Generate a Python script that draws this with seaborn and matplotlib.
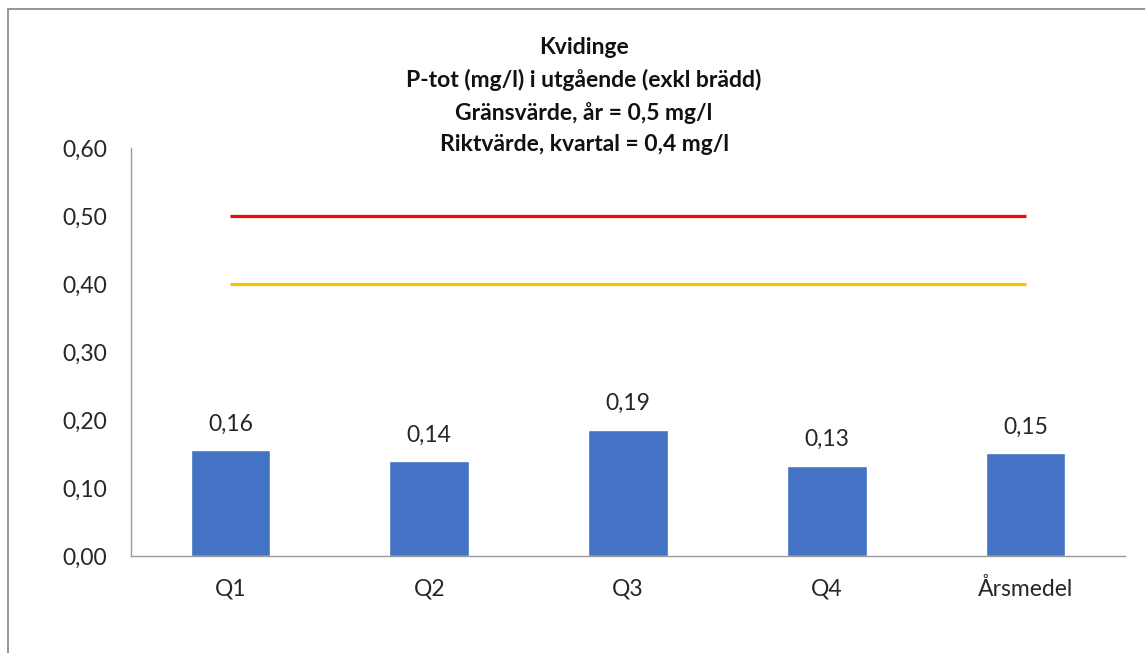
import numpy as np
import pandas as pd
import matplotlib
matplotlib.use("Agg")
import matplotlib.pyplot as plt
from matplotlib.patches import Rectangle
import seaborn as sns

# Quarterly P-tot in outgoing water (mg/l)
categories = ["Q1", "Q2", "Q3", "Q4", "Årsmedel"]
values = [0.156, 0.139, 0.186, 0.133, 0.152]
# Limit values per category (yearly limit and quarterly guideline)
gransvarde = [0.5, 0.5, 0.5, 0.5, 0.5]
riktvarde = [0.4, 0.4, 0.4, 0.4, 0.4]
yticks = [0.0, 0.1, 0.2, 0.3, 0.4, 0.5, 0.6]

title_lines = [
    "Kvidinge",
    "P-tot (mg/l) i utgående (exkl brädd)",
    "Gränsvärde, år = 0,5 mg/l",
    "Riktvärde, kvartal = 0,4 mg/l",
]

sns.set_theme(style="white")
plt.rcParams["font.family"] = ["Lato", "DejaVu Sans"]

fig = plt.figure(figsize=(11.45, 6.53), dpi=100)
fig.patch.set_facecolor("white")

# outer chart frame
fig.add_artist(Rectangle((8 / 1145, -0.05), 1.2, 1 - 9 / 653 + 0.05,
                         transform=fig.transFigure, fill=False,
                         edgecolor="#8c8c8c", linewidth=1.3))

ax = fig.add_axes([131 / 1145, 1 - 556 / 653, (1125 - 131) / 1145, (556 - 148) / 653])

df = pd.DataFrame({"kategori": categories, "värde": values})
sns.barplot(data=df, x="kategori", y="värde", color="#4472C4", width=0.4,
            saturation=1, ax=ax)

xpos = np.arange(len(categories))
ax.plot(xpos, gransvarde, color="#FF0000", linewidth=2.3, solid_capstyle="butt")
ax.plot(xpos, riktvarde, color="#FFC000", linewidth=2.3, solid_capstyle="butt")

for x, v in zip(xpos, values):
    ax.annotate(f"{v:.2f}".replace(".", ","), (x, v), xytext=(0, 11),
                textcoords="offset points", ha="center", va="bottom",
                fontsize=16.5, color="#262626")

ax.set_xlim(-0.5, len(categories) - 0.5)
ax.set_ylim(0, 0.6)
ax.set_yticks(yticks)
ax.set_yticklabels([f"{t:.2f}".replace(".", ",") for t in yticks])
ax.tick_params(axis="both", length=0, labelsize=16.5, colors="#262626")
ax.tick_params(axis="y", pad=17)
ax.tick_params(axis="x", pad=16)
ax.set_xlabel("")
ax.set_ylabel("")

for side in ["top", "right"]:
    ax.spines[side].set_visible(False)
for side in ["left", "bottom"]:
    ax.spines[side].set_color("#9a9a9a")
    ax.spines[side].set_linewidth(1.0)

fig.text(584 / 1145, 1 - 96 / 653, "\n".join(title_lines), ha="center", va="center",
         fontsize=16.5, fontweight="bold", color="#111111", linespacing=1.6)

fig.savefig("out.png", dpi=100, facecolor="white")
